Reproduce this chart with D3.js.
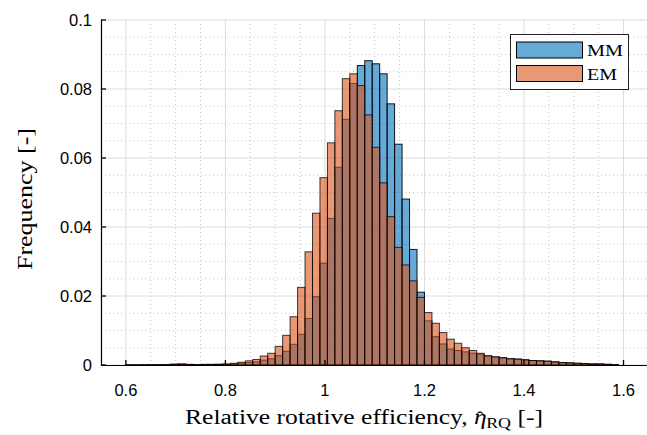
<!DOCTYPE html>
<html><head><meta charset="utf-8">
<script src="https://cdn.jsdelivr.net/npm/d3@7"></script>
<style>body{margin:0;background:#fff}svg{display:block}</style>
</head><body>
<svg id="c" width="647" height="435"></svg>
<script>
// Bin left edges (bin width 0.015, from 0.6 to 1.59)
const binWidth = 0.015;
const binEdges = d3.range(40, 106).map(k => +(k * binWidth).toFixed(3));
const seriesNames = ["MM", "EM"];
const mmValues = [0.00003,0.00003,0.00005,0.00005,0.00008,0.0001,0.0002,0.00025,0.00015,0.0001,0.00012,0.00015,0.00015,
  0.0002,0.0003,0.0005,0.0007,0.0009,0.0014,0.0018,0.0027,0.004,0.006,0.0089,0.0135,0.0198,0.0295,0.0425,0.0573,0.0712,
  0.0816,0.0868,0.0882,0.0873,0.0844,0.0757,0.064,0.0481,0.0335,0.0211,0.0128,0.0082,0.0061,0.0046,0.0042,0.0038,0.0034,
  0.0031,0.0026,0.0023,0.0021,0.0018,0.0017,0.0015,0.0013,0.0012,0.0011,0.0009,0.0007,0.0006,0.0005,0.0004,0.0003,0.0003,0.0002,0.0001];
const emValues = [0.00005,0.00005,0.00008,0.0001,0.0001,0.00015,0.00025,0.0003,0.0002,0.00015,0.0002,0.0002,0.00025,
  0.0003,0.0005,0.0008,0.0012,0.0016,0.0026,0.0034,0.0054,0.0086,0.014,0.0225,0.0328,0.044,0.0543,0.0644,0.0737,0.083,
  0.0844,0.081,0.0725,0.0631,0.0528,0.043,0.0341,0.029,0.0244,0.0196,0.0152,0.0121,0.0094,0.0075,0.0063,0.005,0.0042,
  0.0034,0.0027,0.0024,0.0021,0.0018,0.0017,0.0015,0.0013,0.0012,0.0011,0.0009,0.0007,0.0006,0.0005,0.0004,0.0003,0.0003,0.0002,0.0001];
const xTicks = [0.6, 0.8, 1.0, 1.2, 1.4, 1.6];
const xTickLabels = ["0.6", "0.8", "1", "1.2", "1.4", "1.6"];
const yTicks = [0, 0.02, 0.04, 0.06, 0.08, 0.1];
const yTickLabels = ["0", "0.02", "0.04", "0.06", "0.08", "0.1"];

const svg = d3.select("#c");
const L = 101, R = 648.4, T = 20, B = 365;
const x = d3.scaleLinear().domain([0.55, 1.65]).range([L, R]);
const y = d3.scaleLinear().domain([0, 0.1]).range([B, T]);

const colMM = "rgb(0,114,189)", colEM = "rgb(217,83,25)";

// grid
const g = svg.append("g");
const xMinor = d3.range(0.55, 1.6501, 0.05).filter(v => !xTicks.some(t => Math.abs(t - v) < 1e-6));
const yMinor = d3.range(0, 0.1001, 0.005).filter(v => !yTicks.some(t => Math.abs(t - v) < 1e-6));
g.selectAll(".xmn").data(xMinor).join("line")
  .attr("x1", d => x(d)).attr("x2", d => x(d)).attr("y1", T).attr("y2", B)
  .attr("stroke", "#c4c4c4").attr("stroke-width", 1).attr("stroke-dasharray", "1,3");
g.selectAll(".ymn").data(yMinor).join("line")
  .attr("x1", L).attr("x2", R).attr("y1", d => y(d)).attr("y2", d => y(d))
  .attr("stroke", "#c4c4c4").attr("stroke-width", 1).attr("stroke-dasharray", "1,3");
g.selectAll(".xmj").data(xTicks).join("line")
  .attr("x1", d => x(d)).attr("x2", d => x(d)).attr("y1", T).attr("y2", B)
  .attr("stroke", "#dcdcdc").attr("stroke-width", 1);
g.selectAll(".ymj").data(yTicks).join("line")
  .attr("x1", L).attr("x2", R).attr("y1", d => y(d)).attr("y2", d => y(d))
  .attr("stroke", "#dcdcdc").attr("stroke-width", 1);

// bars
function drawBars(vals, col, strokeOp) {
  svg.append("g").selectAll("rect").data(vals).join("rect")
    .attr("x", (d, i) => x(binEdges[i]))
    .attr("width", (d, i) => x(binEdges[i] + binWidth) - x(binEdges[i]))
    .attr("y", d => y(d))
    .attr("height", d => y(0) - y(d))
    .attr("fill", col).attr("fill-opacity", 0.6)
    .attr("stroke", "#000").attr("stroke-opacity", strokeOp).attr("stroke-width", 1);
}
drawBars(mmValues, colMM, 0.9);
drawBars(emValues, colEM, 0.75);

// axes
const ax = svg.append("g");
ax.append("line").attr("x1", L).attr("x2", R).attr("y1", B + 0.5).attr("y2", B + 0.5).attr("stroke", "#000").attr("stroke-width", 1.2);
ax.append("line").attr("x1", L + 0.5).attr("x2", L + 0.5).attr("y1", T).attr("y2", B + 1).attr("stroke", "#000").attr("stroke-width", 1.2);
ax.selectAll(".xt").data(xTicks).join("line")
  .attr("x1", d => x(d)).attr("x2", d => x(d)).attr("y1", B).attr("y2", B - 5)
  .attr("stroke", "#000").attr("stroke-width", 1.3);
ax.selectAll(".yt").data(yTicks).join("line")
  .attr("x1", L).attr("x2", L + 5).attr("y1", d => y(d)).attr("y2", d => y(d))
  .attr("stroke", "#000").attr("stroke-width", 1.3);
ax.selectAll(".xl").data(xTicks).join("text")
  .attr("x", d => x(d)).attr("y", B + 31)
  .attr("text-anchor", "middle").attr("font-family", "Liberation Sans, Arial, sans-serif")
  .attr("font-size", 16.5).attr("fill", "#000").text((d, i) => xTickLabels[i]);
ax.selectAll(".yl").data(yTicks).join("text")
  .attr("x", L - 9).attr("y", d => y(d) + 6)
  .attr("text-anchor", "end").attr("font-family", "Liberation Sans, Arial, sans-serif")
  .attr("font-size", 16.5).attr("fill", "#000").text((d, i) => yTickLabels[i]);

// axis labels
const serif = "Liberation Serif, DejaVu Serif, serif";
const xl = svg.append("text").attr("x", 185).attr("y", 424)
  .attr("textLength", 358).attr("lengthAdjust", "spacingAndGlyphs")
  .attr("font-family", serif).attr("font-size", 20).attr("fill", "#000");
xl.append("tspan").text("Relative rotative efficiency, ");
xl.append("tspan").attr("font-style", "italic").text("\u03B7");
xl.append("tspan").attr("dx", -8).attr("dy", -1).attr("font-size", 17).text("\u02C6");
xl.append("tspan").attr("font-size", 14).attr("dx", 2).attr("dy", 5).text("RQ");
xl.append("tspan").attr("dy", -4).text(" [-]");

svg.append("text").attr("transform", "translate(32,270) rotate(-90)")
  .attr("textLength", 142).attr("lengthAdjust", "spacingAndGlyphs")
  .attr("font-family", serif).attr("font-size", 21)
  .attr("fill", "#000").text("Frequency [-]");

// legend
const lg = svg.append("g");
lg.append("rect").attr("x", 510.5).attr("y", 34.5).attr("width", 118).attr("height", 55)
  .attr("fill", "#fff").attr("stroke", "#222").attr("stroke-width", 1);
const items = [{n: seriesNames[0], c: colMM, w: 36}, {n: seriesNames[1], c: colEM, w: 30}];
items.forEach((it, i) => {
  const yy = 42 + i * 23.5;
  lg.append("rect").attr("x", 516.5).attr("y", yy).attr("width", 66).attr("height", 16)
    .attr("fill", it.c).attr("fill-opacity", 0.6).attr("stroke", "#000").attr("stroke-width", 1);
  lg.append("text").attr("x", 587).attr("y", yy + 14).attr("font-family", serif)
    .attr("textLength", it.w).attr("lengthAdjust", "spacingAndGlyphs")
    .attr("font-size", 17).attr("fill", "#000").text(it.n);
});
</script>
</body></html>
